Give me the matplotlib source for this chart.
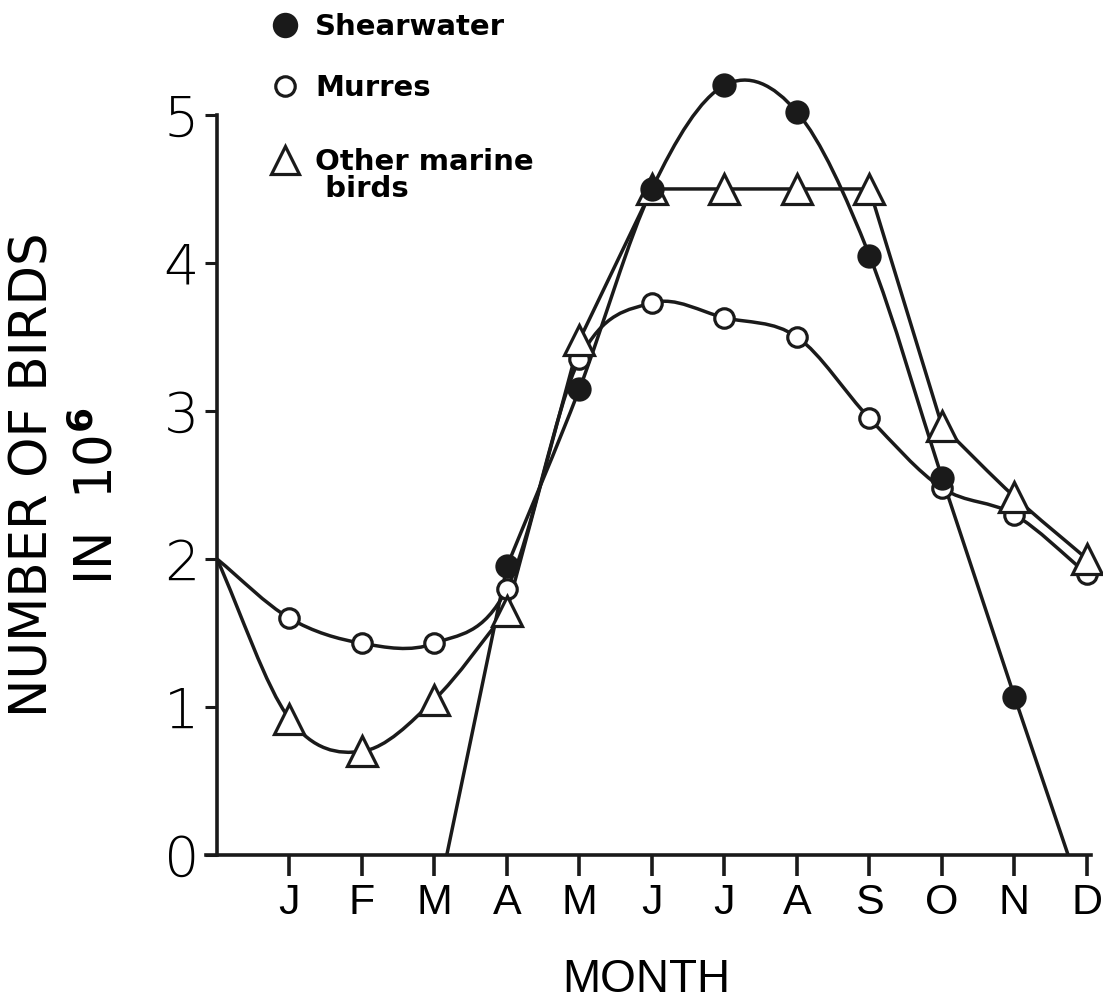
import numpy as np
import matplotlib
matplotlib.use("Agg")
import matplotlib.pyplot as plt
from matplotlib.path import Path
from matplotlib.patches import PathPatch
from matplotlib.lines import Line2D

months = ["J", "F", "M", "A", "M", "J", "J", "A", "S", "O", "N", "D"]
month_pos = np.arange(1, 13)

# Shearwater: line starts and ends on the zero axis without markers
shear_x = [3.17, 4, 5, 6, 7, 8, 9, 10, 11, 11.74]
shear_y = [0.0, 1.95, 3.15, 4.5, 5.2, 5.02, 4.05, 2.55, 1.07, 0.0]
shear_marked = [False, True, True, True, True, True, True, True, True, False]

murre_x = [0, 1, 2, 3, 4, 5, 6, 7, 8, 9, 10, 11, 12]
murre_y = [2.0, 1.6, 1.43, 1.43, 1.8, 3.35, 3.73, 3.63, 3.5, 2.95, 2.48, 2.3, 1.9]

other_x = [0, 1, 2, 3, 4, 5, 6, 7, 8, 9, 10, 11, 12]
other_y = [2.0, 0.92, 0.7, 1.05, 1.65, 3.48, 4.5, 4.5, 4.5, 4.5, 2.9, 2.42, 2.0]


def smooth_path(xs, ys, corners=()):
    """Cubic Bezier path through the points; tangents are Catmull-Rom,
    except at indices in `corners`, where the path turns sharply."""
    xs = np.asarray(xs, float)
    ys = np.asarray(ys, float)
    n = len(xs)
    tx = np.zeros(n)
    ty = np.zeros(n)
    for i in range(n):
        a = max(i - 1, 0)
        b = min(i + 1, n - 1)
        tx[i] = (xs[b] - xs[a]) / (b - a)
        ty[i] = (ys[b] - ys[a]) / (b - a)
    verts = [(xs[0], ys[0])]
    codes = [Path.MOVETO]
    for i in range(n - 1):
        d = xs[i + 1] - xs[i]
        if i in corners:
            c1 = (xs[i] + d / 3, ys[i] + (ys[i + 1] - ys[i]) / 3)
        else:
            s = d / (3 * tx[i]) if tx[i] else 0
            c1 = (xs[i] + tx[i] * s, ys[i] + ty[i] * s)
        if (i + 1) in corners:
            c2 = (xs[i + 1] - d / 3, ys[i + 1] - (ys[i + 1] - ys[i]) / 3)
        else:
            s = d / (3 * tx[i + 1]) if tx[i + 1] else 0
            c2 = (xs[i + 1] - tx[i + 1] * s, ys[i + 1] - ty[i + 1] * s)
        verts += [c1, c2, (xs[i + 1], ys[i + 1])]
        codes += [Path.CURVE4] * 3
    return Path(verts, codes)


fig = plt.figure(figsize=(11.03, 10.05), dpi=100)
ax = fig.add_axes([0.1967 - 0.15 * 72.5 / 1103, 0.1493, 12.2 * 72.5 / 1103, 5.4 * 148 / 1005])
ax.set_xlim(-0.15, 12.05)
ax.set_ylim(0, 5.4)

lw = 2.5
ink = "#1a1a1a"
narrow = ["Liberation Sans", "DejaVu Sans"]

ax.add_patch(PathPatch(smooth_path(shear_x, shear_y, corners=(0, 1, 7, 8, 9)),
                       fill=False, lw=lw, ec=ink, clip_on=False, zorder=2))
ax.add_patch(PathPatch(smooth_path(murre_x, murre_y, corners=(0,)),
                       fill=False, lw=lw, ec=ink, clip_on=False, zorder=2))
ax.add_patch(PathPatch(smooth_path(other_x, other_y, corners=(0, 4, 5, 6, 7, 8, 9, 10)),
                       fill=False, lw=lw, ec=ink, clip_on=False, zorder=2))

mx = [x for x, m in zip(shear_x, shear_marked) if m]
my = [y for y, m in zip(shear_y, shear_marked) if m]
ax.plot(mx, my, "o", ms=16, mfc=ink, mec=ink, mew=1.5, clip_on=False, zorder=4)
ax.plot(murre_x[1:], murre_y[1:], "o", ms=14, mfc="white", mec=ink, mew=2.3,
        clip_on=False, zorder=3)
ax.plot(other_x[1:], other_y[1:], "^", ms=21, mfc="white", mec=ink, mew=2.3,
        clip_on=False, zorder=3)

# axes frame: only left and bottom lines
for side in ("top", "right"):
    ax.spines[side].set_visible(False)
ax.spines["left"].set_position(("data", 0))
ax.spines["left"].set_bounds(0, 5)
for side in ("left", "bottom"):
    ax.spines[side].set_linewidth(2.6)
    ax.spines[side].set_color(ink)

ax.set_yticks([0, 1, 2, 3, 4, 5])
ax.set_yticklabels(["0", "1", "2", "3", "4", "5"], fontsize=40,
                   fontfamily="DejaVu Sans", fontweight="light")
ax.tick_params(axis="y", direction="out", length=9, width=2.2, pad=4, color=ink)

ax.set_xticks(month_pos)
ax.set_xticklabels(months, fontsize=31, family=narrow)
ax.tick_params(axis="x", direction="out", length=15, width=2.6, pad=5, color=ink)

fig.text(646 / 1103, 1 - 980 / 1005, "MONTH", ha="center", va="center",
         fontsize=33, family=narrow)
fig.text(0.030, 1 - 475 / 1005, "NUMBER OF BIRDS", rotation=90, ha="center",
         va="center", fontsize=37)
fig.text(0.089, 1 - 496 / 1005, r"IN  10$^{\mathbf{6}}$", rotation=90, ha="center",
         va="center", fontsize=37)

# legend written directly above the plot
lx, tx = 285 / 1103, 315 / 1103
rows = [(25, "o", ink, 16, "Shearwater"),
        (86, "o", "white", 14, "Murres"),
        (160, "^", "white", 20, "Other marine\n birds")]
for ypx, mk, fc, size, label in rows:
    y = 1 - ypx / 1005
    fig.add_artist(Line2D([lx], [y], marker=mk, ms=size, mfc=fc, mec=ink, mew=2.3,
                          ls="none", transform=fig.transFigure))
    fig.text(tx, y + 0.012, label, ha="left", va="top", fontsize=21,
             fontweight="bold", linespacing=0.95)

fig.savefig("out.png", dpi=100)
